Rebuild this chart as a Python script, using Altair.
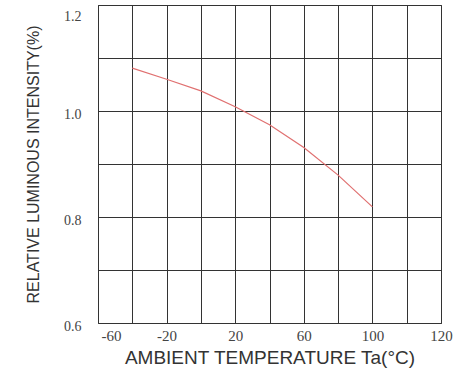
import altair as alt
import pandas as pd

# Curve data
temp = [-40, -20, 0, 20, 40, 60, 80, 100]
intensity = [1.081, 1.060, 1.038, 1.008, 0.974, 0.931, 0.879, 0.819]

# Axis grid and tick labels
x_grid = [-60, -40, -20, 0, 20, 40, 60, 80, 100, 120, 140]
x_tick_values = [-60, -20, 20, 60, 100, 140]
x_tick_labels = ["-60", "-20", "20", "60", "100", "120"]
y_grid = [0.6, 0.7, 0.8, 0.9, 1.0, 1.1, 1.2]
y_tick_values = [0.6, 0.8, 1.0, 1.2]
y_tick_labels = ["0.6", "0.8", "1.0", "1.2"]

df = pd.DataFrame({"t": temp, "v": intensity})


def label_expr(values, labels):
    expr = "''"
    for v, l in reversed(list(zip(values, labels))):
        expr = f"abs(datum.value - ({v})) < 1e-6 ? '{l}' : ({expr})"
    return expr


x_axis = alt.Axis(
    values=x_grid,
    labelExpr=label_expr(x_tick_values, x_tick_labels),
    grid=True,
    gridColor="#333333",
    gridOpacity=1,
    gridWidth=1,
    ticks=False,
    domain=False,
    labelFont="Liberation Serif",
    labelFontSize=15,
    labelColor="#444444",
    labelPadding=5,
    labelFlush=False,
    labelAlign=alt.expr("datum.value == -60 ? 'left' : 'center'"),
    labelOffset=alt.expr("datum.value == -60 ? 3 : 0"),
    title="AMBIENT TEMPERATURE Ta(°C)",
    titleFont="Liberation Sans",
    titleFontSize=19,
    titleFontWeight="normal",
    titleColor="#333333",
    titlePadding=5,
)

y_axis = alt.Axis(
    values=y_grid,
    labelExpr=label_expr(y_tick_values, y_tick_labels),
    grid=True,
    gridColor="#333333",
    gridOpacity=1,
    gridWidth=1,
    ticks=False,
    domain=False,
    labelFont="Liberation Serif",
    labelFontSize=14,
    labelColor="#444444",
    labelPadding=17,
    labelBaseline=alt.expr("abs(datum.value - 1.2) < 1e-6 ? 'top' : 'middle'"),
    labelOffset=alt.expr("abs(datum.value - 1.2) < 1e-6 ? 4 : 3"),
    title="RELATIVE LUMINOUS INTENSITY(%)",
    titleFont="Liberation Sans",
    titleFontSize=16,
    titleFontWeight="normal",
    titleColor="#333333",
    titlePadding=22,
)

chart = (
    alt.Chart(df)
    .mark_line(color="#e07070", strokeWidth=1.2)
    .encode(
        x=alt.X("t:Q", scale=alt.Scale(domain=[-60, 140], nice=False), axis=x_axis),
        y=alt.Y("v:Q", scale=alt.Scale(domain=[0.6, 1.2], nice=False, zero=False), axis=y_axis),
    )
    .properties(
        width=343,
        height=318,
        autosize=alt.AutoSizeParams(type="none"),
        padding={"left": 98, "top": 5, "right": 21, "bottom": 47},
        background="white",
    )
    .configure_view(stroke="#333333", strokeWidth=1)
)

chart.save("out.html", embed_options={"renderer": "svg", "actions": False})
